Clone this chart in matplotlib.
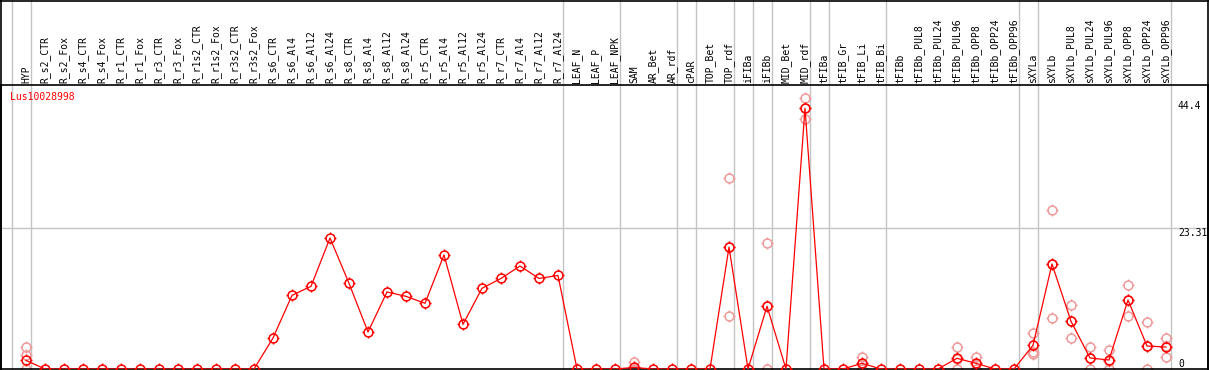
import matplotlib
matplotlib.use("Agg")
import matplotlib.pyplot as plt
from matplotlib.path import Path
from matplotlib.lines import Line2D
import matplotlib.transforms as mtransforms

samples = ["HYP", "R_s2_CTR", "R_s2_Fox", "R_s4_CTR", "R_s4_Fox", "R_r1_CTR", "R_r1_Fox",
           "R_r3_CTR", "R_r3_Fox", "R_r1s2_CTR", "R_r1s2_Fox", "R_r3s2_CTR", "R_r3s2_Fox",
           "R_s6_CTR", "R_s6_Al4", "R_s6_Al12", "R_s6_Al24", "R_s8_CTR", "R_s8_Al4",
           "R_s8_Al12", "R_s8_Al24", "R_r5_CTR", "R_r5_Al4", "R_r5_Al12", "R_r5_Al24",
           "R_r7_CTR", "R_r7_Al4", "R_r7_Al12", "R_r7_Al24", "LEAF_N", "LEAF_P", "LEAF_NPK",
           "SAM", "AR_Bet", "AR_rdf", "cPAR", "TOP_Bet", "TOP_rdf", "iFIBa", "iFIBb",
           "MID_Bet", "MID_rdf", "tFIBa", "tFIB_Gr", "tFIB_Li", "tFIB_Bi", "tFIBb",
           "tFIBb_PUL8", "tFIBb_PUL24", "tFIBb_PUL96", "tFIBb_OPP8", "tFIBb_OPP24",
           "tFIBb_OPP96", "sXYLa", "sXYLb", "sXYLb_PUL8", "sXYLb_PUL24", "sXYLb_PUL96",
           "sXYLb_OPP8", "sXYLb_OPP24", "sXYLb_OPP96"]

mean_values = [1.43, 0, 0, 0, 0, 0, 0, 0, 0, 0, 0, 0, 0,
               5.14, 12.2, 13.7, 21.7, 14.2, 6.13, 12.76, 12.04, 10.88, 18.9, 7.4, 13.37,
               15.0, 17.06, 15.0, 15.5, 0, 0, 0,
               0.25, 0, 0, 0, 0, 20.2, 0, 10.4, 0, 43.2, 0, 0, 0.94, 0, 0,
               0, 0, 1.77, 0.94, 0, 0,
               3.92, 17.4, 7.9, 1.82, 1.49, 11.43, 3.81, 3.64]

replicates = {
    "HYP": [3.64, 2.3, 0],
    "SAM": [1.16, 0, 0],
    "TOP_rdf": [31.6, 8.7, 20.2],
    "iFIBb": [20.8, 10.4, 0],
    "MID_rdf": [44.9, 43.2, 41.5],
    "tFIB_Li": [2.04, 0.8, 0],
    "tFIBb_PUL96": [3.64, 1.7, 0],
    "tFIBb_OPP8": [2.04, 0.8, 0],
    "sXYLa": [5.96, 2.87, 2.54],
    "sXYLb": [26.3, 8.45, 17.4],
    "sXYLb_PUL8": [10.55, 5.2, 7.9],
    "sXYLb_PUL24": [3.64, 1.8, 0],
    "sXYLb_PUL96": [3.1, 1.4, 0],
    "sXYLb_OPP8": [13.87, 8.84, 11.5],
    "sXYLb_OPP24": [7.73, 3.8, 0],
    "sXYLb_OPP96": [5.14, 1.93, 3.8],
}

# sample groups end after these positions (-1 = before the first one)
group_ends = [-1, 0, 28, 31, 34, 35, 37, 38, 39, 41, 42, 45, 52, 53, 60]
y_ticks = [0, 23.31, 44.4]
gene = "Lus10028998"

W, H = 1209, 370
fig = plt.figure(figsize=(W / 100, H / 100), dpi=100)
ax = fig.add_axes([1 / W, 1 / H, 1207 / W, 284 / H])
ax.set_xlim((1 - 26) / 19, (1208 - 26) / 19)
ax.set_ylim(0, 47.05)
ax.set_xticks([])
ax.set_yticks([])
for s in ax.spines.values():
    s.set_color("black")
    s.set_linewidth(1.2)

# four short ticks around each circle, like the original markers
ticks = Path([(0, 1), (0, 1.35), (0, -1), (0, -1.35), (1, 0), (1.35, 0), (-1, 0), (-1.35, 0)],
             [Path.MOVETO, Path.LINETO] * 4)

grey = "#c4c4c4"
for g in group_ends:
    ax.axvline(g + 0.24, ymin=0, ymax=369 / 284, color=grey, lw=1, clip_on=False, zorder=0)
ax.axhline(23.31, color=grey, lw=1, zorder=0)


def dots(x, y, color, z, **kw):
    ax.plot(x, y, marker="o", markersize=6.4, markerfacecolor="none",
            markeredgecolor=color, markeredgewidth=1.1, color=color, zorder=z, **kw)
    ax.plot(x, y, linestyle="none", marker=ticks, markersize=8.6,
            markeredgecolor=color, markeredgewidth=1, zorder=z)


xs = list(range(len(samples)))
for name, reps in replicates.items():
    i = samples.index(name)
    dots([i] * len(reps), reps, "#ef9a9a", 2, linestyle="none")

dots(xs, mean_values, "red", 3, lw=0.9)

trans = mtransforms.blended_transform_factory(ax.transData, ax.transAxes)
for i, name in enumerate(samples):
    ax.text(i, 1.008, name, rotation=90, ha="center", va="bottom", transform=trans,
            family="DejaVu Sans Mono", fontsize=7, clip_on=False)

for v in y_ticks:
    ax.text((1178 - 26) / 19, v, ("%g" % v) if v else "0", ha="left",
            va="bottom" if v == 0 else "top", family="DejaVu Sans Mono", fontsize=7,
            zorder=4)

fig.text(10 / W, 1 - 97 / H, gene, color="red", ha="left", va="center",
         family="DejaVu Sans Mono", fontsize=7)

# frame around the header part
for xy in [([1 / W, 1 / W], [0, 1]), ([1208 / W, 1208 / W], [0, 1]),
           ([0, 1], [1 - 0.6 / H, 1 - 0.6 / H])]:
    fig.add_artist(Line2D(xy[0], xy[1], color="black", lw=1.2))

fig.savefig("out.png", dpi=100)
